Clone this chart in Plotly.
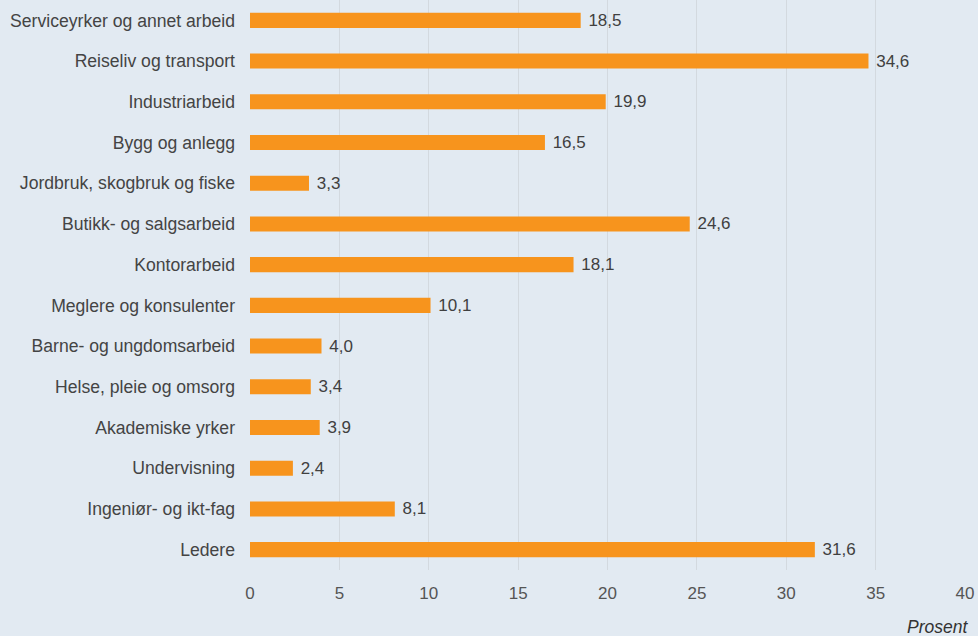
import plotly.graph_objects as go

categories = [
    "Serviceyrker og annet arbeid",
    "Reiseliv og transport",
    "Industriarbeid",
    "Bygg og anlegg",
    "Jordbruk, skogbruk og fiske",
    "Butikk- og salgsarbeid",
    "Kontorarbeid",
    "Meglere og konsulenter",
    "Barne- og ungdomsarbeid",
    "Helse, pleie og omsorg",
    "Akademiske yrker",
    "Undervisning",
    "Ingeniør- og ikt-fag",
    "Ledere",
]
values = [18.5, 34.6, 19.9, 16.5, 3.3, 24.6, 18.1, 10.1, 4.0, 3.4, 3.9, 2.4, 8.1, 31.6]
tick_vals = [0, 5, 10, 15, 20, 25, 30, 35, 40]
axis_title = "Prosent"

labels = [" " + f"{v:.1f}".replace(".", ",") for v in values]

bg = "#e2eaf2"
fig = go.Figure(go.Bar(
    x=values, y=categories, orientation="h",
    marker=dict(color="#f7941d", line=dict(width=0)),
    text=labels, textposition="outside", cliponaxis=False, constraintext="none",
    textfont=dict(color="#404040", size=17),
))
fig.update_layout(
    width=978, height=636,
    paper_bgcolor=bg, plot_bgcolor=bg,
    margin=dict(l=250, r=13, t=0, b=66),
    font=dict(family="Liberation Sans, Arial, sans-serif", size=17, color="#555555"),
    bargap=0.63,
    showlegend=False,
    xaxis=dict(range=[0, 40], tickvals=tick_vals, showgrid=True, gridcolor="#d3d9df",
               gridwidth=1, zeroline=False, showline=False, ticklabelstandoff=11,
               tickfont=dict(size=17, color="#555555")),
    yaxis=dict(autorange="reversed", showgrid=False, zeroline=False, showline=False,
               ticklabelstandoff=14, tickfont=dict(size=17.6, color="#444444")),
    annotations=[dict(text=f"<i>{axis_title}</i>", xref="paper", yref="paper",
                      x=1.0, y=0, xanchor="right", yanchor="top", yshift=-45, xshift=5,
                      showarrow=False, font=dict(size=17.5, color="#333333"))],
)
fig.write_html("out.html", config={"displayModeBar": False},
               post_script="document.body.style.margin='0';document.body.style.overflow='hidden';")
